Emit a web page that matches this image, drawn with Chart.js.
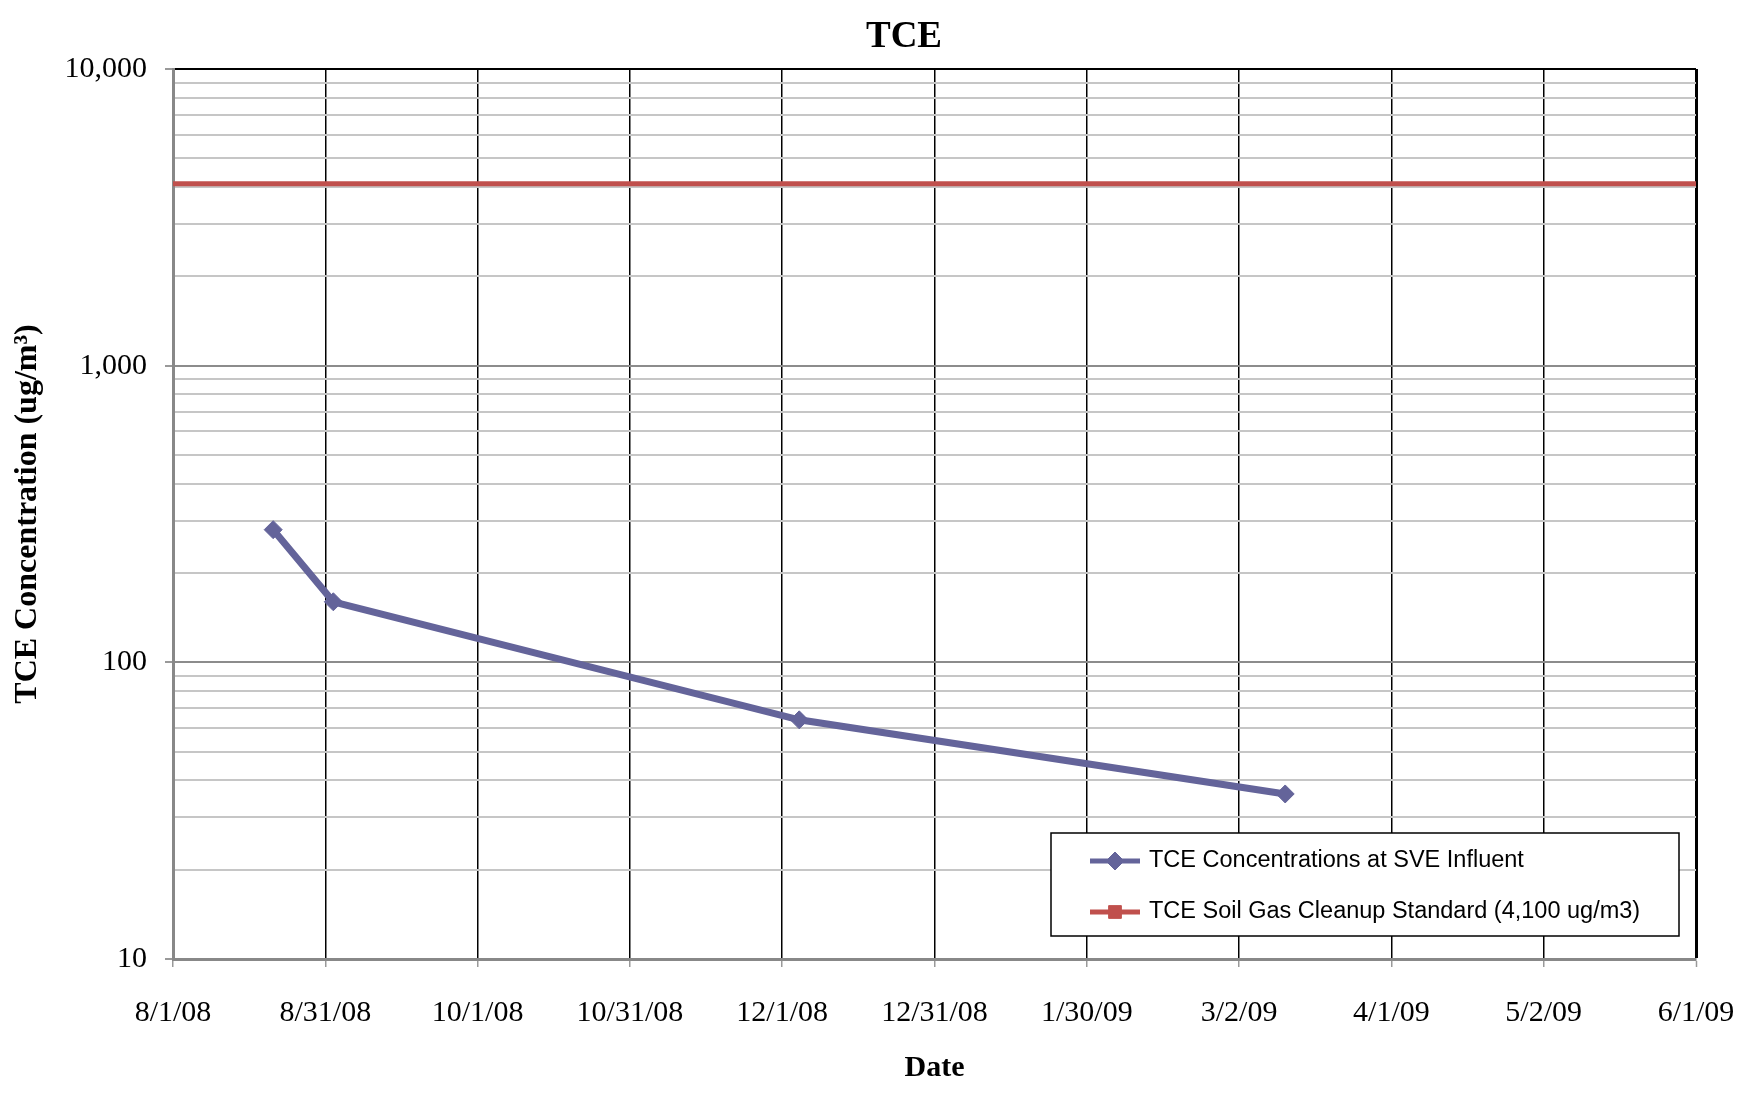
<!DOCTYPE html>
<html>
<head>
<meta charset="utf-8">
<script src="https://cdn.jsdelivr.net/npm/chart.js@4/dist/chart.umd.min.js"></script>
<style>
  html, body { margin: 0; padding: 0; background: #fff; }
  #wrap { width: 1753px; height: 1094px; }
</style>
</head>
<body>
<div id="wrap"><canvas id="myChart" width="1753" height="1094"></canvas></div>
<script>
// TCE readings at the SVE influent (ug/m3)
const sampleDates = ['2008-08-21', '2008-09-02', '2008-12-04', '2009-03-11'];
const sveInfluent = [280, 160, 64, 36];

// soil gas cleanup standard (ug/m3)
const cleanupStandard = 4100;

const startDate = '2008-08-01';
const endDate = '2009-06-01';
const dateTickLabels = ['8/1/08', '8/31/08', '10/1/08', '10/31/08', '12/1/08', '12/31/08',
                        '1/30/09', '3/2/09', '4/1/09', '5/2/09', '6/1/09'];
const seriesLabels = ['TCE Concentrations at SVE Influent',
                      'TCE Soil Gas Cleanup Standard (4,100 ug/m3)'];
const yMin = 10, yMax = 10000;

function dayOffset(d) {
    return (Date.parse(d) - Date.parse(startDate)) / 86400000;
}
const xMax = dayOffset(endDate);

const purple = '#64649a';
const red = '#c0504d';
const serif = "'Liberation Serif', 'Times New Roman', serif";

// title drawn by hand so it sits where the original does
const titlePlugin = {
    id: 'tceTitle',
    afterDraw(chart) {
        const ctx = chart.ctx;
        ctx.save();
        ctx.font = 'bold 37px ' + serif;
        ctx.fillStyle = '#000';
        ctx.textAlign = 'center';
        ctx.textBaseline = 'middle';
        ctx.fillText('TCE', 904, 37);
        ctx.restore();
    }
};

// boxed legend inside the plot, bottom right
const boxLegend = {
    id: 'boxLegend',
    afterDraw(chart) {
        const {ctx, chartArea} = chart;
        const w = 628, h = 103;
        const x0 = chartArea.right - 17 - w;
        const y0 = chartArea.bottom - 23 - h;
        ctx.save();
        ctx.fillStyle = '#fff';
        ctx.fillRect(x0, y0, w, h);
        ctx.strokeStyle = '#000';
        ctx.lineWidth = 1.5;
        ctx.strokeRect(x0, y0, w, h);
        chart.data.datasets.forEach((ds, i) => {
            const cy = y0 + 28 + i * 51;
            const lx = x0 + 39;
            ctx.strokeStyle = ds.borderColor;
            ctx.fillStyle = ds.borderColor;
            ctx.lineWidth = 5;
            ctx.beginPath();
            ctx.moveTo(lx, cy);
            ctx.lineTo(lx + 50, cy);
            ctx.stroke();
            ctx.lineWidth = 1;
            Chart.helpers.drawPoint(ctx, {pointStyle: ds.pointStyle, radius: 9, borderWidth: 1, rotation: 0}, lx + 25, cy);
            ctx.fillStyle = '#000';
            ctx.font = "23.5px 'Liberation Sans', Arial, sans-serif";
            ctx.textAlign = 'left';
            ctx.textBaseline = 'middle';
            ctx.fillText(ds.label, x0 + 98, cy);
        });
        ctx.restore();
    }
};

const ctx = document.getElementById('myChart').getContext('2d');
new Chart(ctx, {
    type: 'line',
    data: {
        datasets: [{
            label: seriesLabels[0],
            data: sampleDates.map((d, i) => ({x: dayOffset(d), y: sveInfluent[i]})),
            borderColor: purple,
            backgroundColor: purple,
            borderWidth: 7,
            pointStyle: 'rectRot',
            pointRadius: 9,
            pointBorderWidth: 1,
            tension: 0
        }, {
            label: seriesLabels[1],
            data: [{x: 0, y: cleanupStandard}, {x: xMax, y: cleanupStandard}],
            borderColor: red,
            backgroundColor: red,
            borderWidth: 5,
            pointStyle: 'rect',
            pointRadius: 0
        }]
    },
    options: {
        responsive: false,
        animation: false,
        layout: {padding: {left: 0, right: 57, top: 69, bottom: 0}},
        plugins: {
            legend: {display: false},
            title: {display: false},
            tooltip: {enabled: false}
        },
        scales: {
            x: {
                type: 'linear',
                min: 0,
                max: xMax,
                afterBuildTicks(scale) {
                    scale.ticks = dateTickLabels.map((_, i) => ({value: i * xMax / (dateTickLabels.length - 1)}));
                },
                afterFit(scale) {
                    scale.height = 135;
                    scale.paddingLeft = 0;
                    scale.paddingRight = 0;
                },
                ticks: {
                    autoSkip: false,
                    maxRotation: 0,
                    padding: 28,
                    color: '#000',
                    font: {family: serif, size: 30},
                    callback: (v, i) => dateTickLabels[i]
                },
                grid: {
                    color: c => c.index === 0 ? '#888' : '#000',
                    lineWidth: c => c.index === dateTickLabels.length - 1 ? 3 : 1.5,
                    tickColor: '#999',
                    tickWidth: 1.5,
                    tickLength: 8
                },
                border: {color: '#888', width: 3},
                title: {
                    display: true,
                    text: 'Date',
                    color: '#000',
                    font: {family: serif, size: 30, weight: 'bold'},
                    padding: {top: 0, bottom: 8}
                }
            },
            y: {
                type: 'logarithmic',
                min: yMin,
                max: yMax,
                afterBuildTicks(scale) {
                    const t = [];
                    for (let p = yMin; p < yMax; p *= 10) {
                        for (let m = 1; m < 10; m++) t.push({value: m * p});
                    }
                    t.push({value: yMax});
                    scale.ticks = t;
                },
                afterFit(scale) {
                    scale.width = 173;
                    scale.paddingTop = 0;
                    scale.paddingBottom = 0;
                },
                ticks: {
                    autoSkip: false,
                    padding: 18,
                    color: '#000',
                    font: {family: serif, size: 30},
                    callback: v => Number.isInteger(Math.log10(v)) ? v.toLocaleString('en-US') : ''
                },
                grid: {
                    color: c => {
                        const v = c.tick.value;
                        if (v === yMax) return '#000';
                        return Number.isInteger(Math.log10(v)) ? '#8c8c8c' : '#c6c6c6';
                    },
                    lineWidth: 2,
                    tickColor: c => Number.isInteger(Math.log10(c.tick.value)) ? '#999' : 'rgba(0,0,0,0)',
                    tickLength: 8
                },
                border: {color: '#888', width: 3},
                title: {
                    display: true,
                    text: 'TCE Concentration (ug/m³)',
                    color: '#000',
                    font: {family: serif, size: 32, weight: 'bold'},
                    padding: {top: 9, bottom: 0}
                }
            }
        }
    },
    plugins: [titlePlugin, boxLegend]
});
</script>
</body>
</html>
